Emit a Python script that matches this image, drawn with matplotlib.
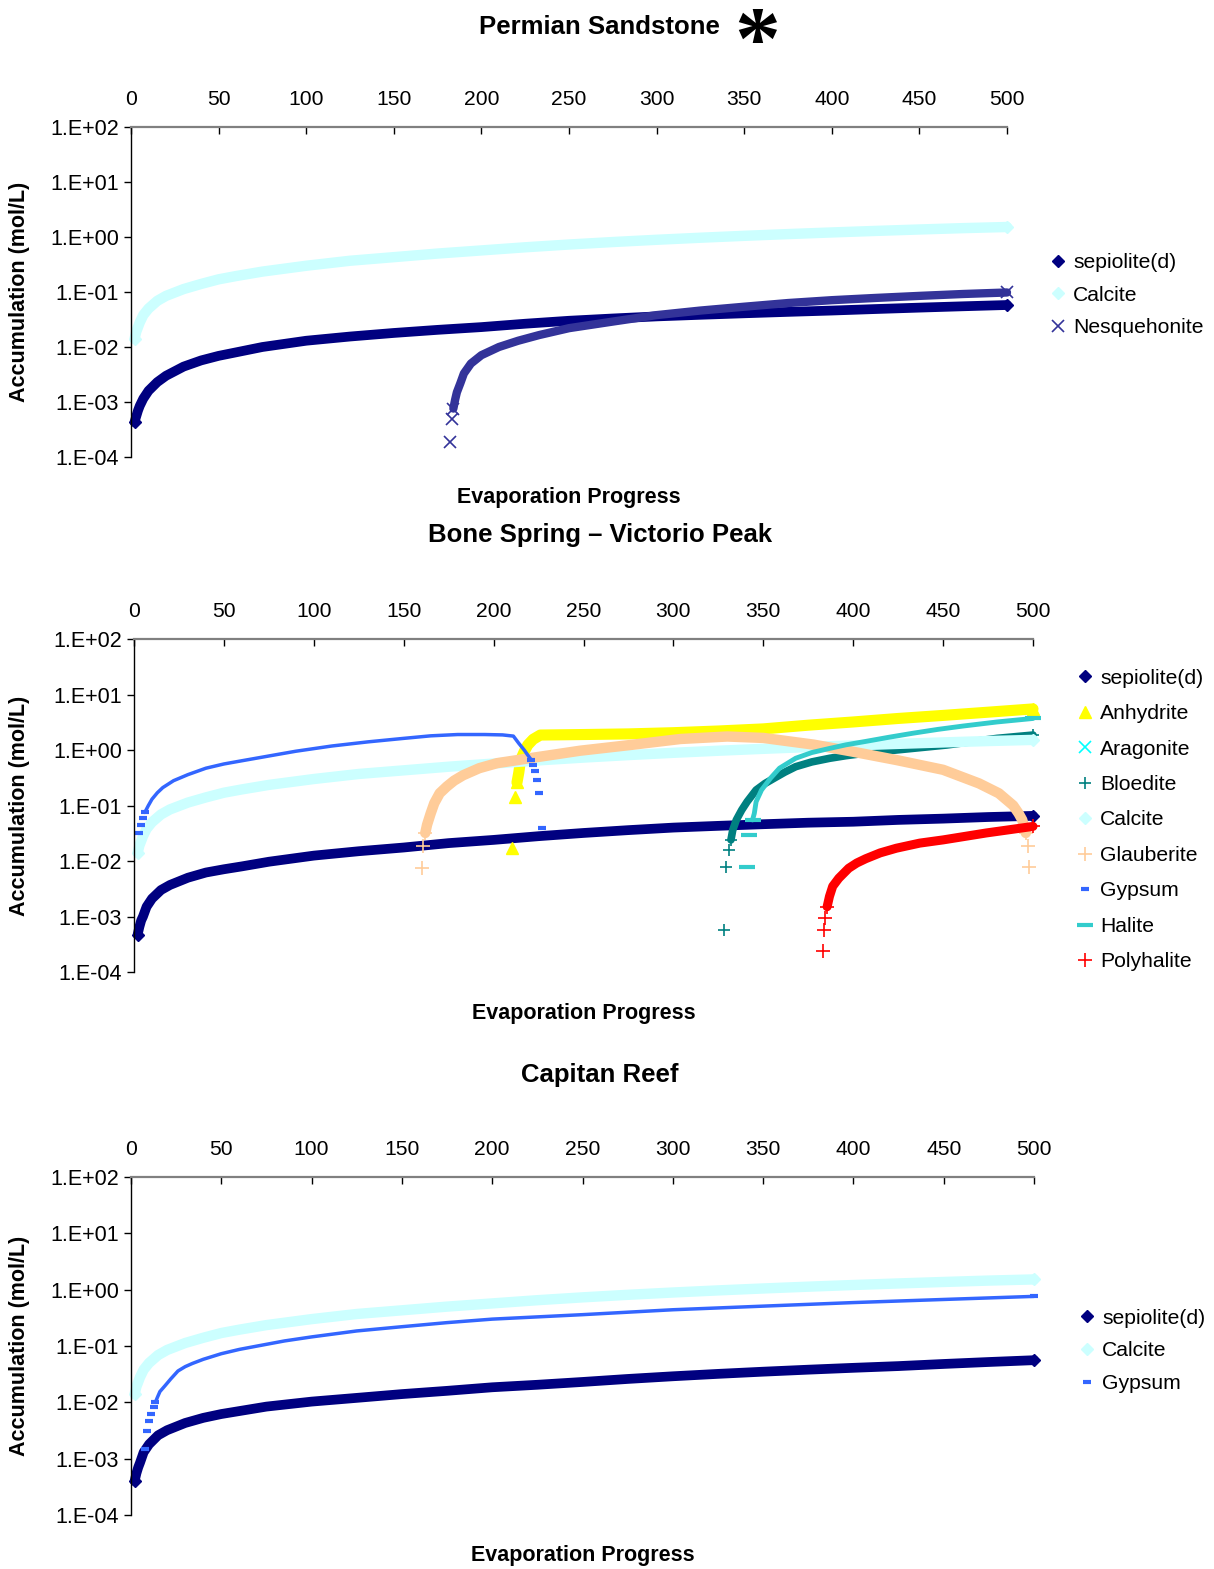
import matplotlib
matplotlib.use("Agg")
import matplotlib.pyplot as plt
from matplotlib.ticker import NullLocator

plt.rcParams['font.family'] = ['Liberation Sans', 'DejaVu Sans']

# ---- data (x = evaporation progress, y = mol/L) ----
x_ticks = [0, 50, 100, 150, 200, 250, 300, 350, 400, 450, 500]
y_ticks = [1e-4, 1e-3, 1e-2, 1e-1, 1e0, 1e1, 1e2]
y_tick_labels = ['1.E-04', '1.E-03', '1.E-02', '1.E-01', '1.E+00', '1.E+01', '1.E+02']

titles = ['Permian Sandstone', 'Bone Spring \u2013 Victorio Peak', 'Capitan Reef']

# sepiolite / calcite sample positions (same in every panel)
base_x = [2, 3, 4, 5, 7, 10, 15, 20, 30, 40, 50, 60, 75, 100, 125, 150, 175, 200,
          225, 250, 275, 300, 325, 350, 375, 400, 425, 450, 475, 500]
sep1_y = [4.3e-4, 5.5e-4, 7.0e-4, 8.5e-4, 1.15e-3, 1.6e-3, 2.3e-3, 3.0e-3, 4.4e-3,
          5.7e-3, 6.9e-3, 8.0e-3, 1.0e-2, 1.3e-2, 1.55e-2, 1.8e-2, 2.05e-2, 2.3e-2,
          2.65e-2, 3.0e-2, 3.3e-2, 3.6e-2, 3.85e-2, 4.1e-2, 4.35e-2, 4.6e-2, 4.9e-2,
          5.2e-2, 5.5e-2, 5.8e-2]
sep2_y = [4.7e-4, 6.5e-4, 8.5e-4, 1.0e-3, 1.5e-3, 2.1e-3, 3.0e-3, 3.7e-3, 5.0e-3,
          6.2e-3, 7.1e-3, 8.0e-3, 9.7e-3, 1.25e-2, 1.5e-2, 1.75e-2, 2.1e-2, 2.4e-2,
          2.8e-2, 3.2e-2, 3.6e-2, 4.0e-2, 4.3e-2, 4.6e-2, 4.9e-2, 5.1e-2, 5.5e-2,
          5.8e-2, 6.2e-2, 6.5e-2]
sep3_y = [4.0e-4, 5.5e-4, 7.0e-4, 8.5e-4, 1.3e-3, 1.8e-3, 2.6e-3, 3.2e-3, 4.3e-3,
          5.3e-3, 6.2e-3, 7.0e-3, 8.4e-3, 1.03e-2, 1.2e-2, 1.4e-2, 1.6e-2, 1.85e-2,
          2.05e-2, 2.3e-2, 2.6e-2, 2.9e-2, 3.2e-2, 3.5e-2, 3.8e-2, 4.1e-2, 4.4e-2,
          4.8e-2, 5.2e-2, 5.6e-2]
cal_y = [1.4e-2, 1.9e-2, 2.3e-2, 2.8e-2, 3.8e-2, 5.0e-2, 6.9e-2, 8.5e-2, 0.113,
         0.14, 0.17, 0.195, 0.235, 0.30, 0.37, 0.43, 0.50, 0.57, 0.65, 0.73, 0.81,
         0.89, 0.97, 1.05, 1.13, 1.21, 1.29, 1.37, 1.45, 1.52]

# Permian Sandstone
nesq_x = [182, 183, 184, 185, 186, 188, 190, 194, 200, 210, 221, 233, 250, 275,
          300, 325, 350, 375, 400, 425, 450, 475, 500]
nesq_y = [1.9e-4, 4.9e-4, 7.6e-4, 1.1e-3, 1.5e-3, 2.2e-3, 3.3e-3, 5.0e-3, 7.1e-3,
          1.0e-2, 1.3e-2, 1.65e-2, 2.2e-2, 2.9e-2, 3.8e-2, 4.6e-2, 5.4e-2, 6.3e-2,
          7.1e-2, 7.8e-2, 8.5e-2, 9.2e-2, 9.8e-2]

# Bone Spring - Victorio Peak
anh_x = [210, 212, 213, 214, 215, 217, 219, 222, 226, 250, 275, 300, 325, 350,
         375, 400, 425, 450, 475, 500]
anh_y = [0.017, 0.144, 0.26, 0.39, 0.66, 0.93, 1.23, 1.56, 1.86, 1.9, 1.95, 2.05,
         2.2, 2.4, 2.8, 3.2, 3.7, 4.2, 4.8, 5.5]
arag_x = []
arag_y = []
bld_x = [328, 329.5, 331, 332, 333, 335, 338, 341, 346, 351, 356, 362, 368, 377,
         387, 396, 406, 424, 452, 480, 500]
bld_y = [5.7e-4, 7.9e-3, 0.016, 0.024, 0.036, 0.055, 0.083, 0.117, 0.19, 0.25,
         0.31, 0.40, 0.50, 0.61, 0.71, 0.79, 0.87, 1.0, 1.23, 1.62, 1.86]
glb_x = [160, 161, 162, 163, 165, 167, 170, 174, 178, 183, 192, 202, 220, 248, 276,
         304, 330, 350, 378, 400, 424, 450, 470, 481, 489, 492, 494, 496, 497, 498]
glb_y = [7.5e-3, 0.019, 0.032, 0.045, 0.072, 0.11, 0.166, 0.22, 0.28, 0.35, 0.47,
         0.58, 0.71, 0.97, 1.23, 1.58, 1.75, 1.65, 1.25, 0.93, 0.66, 0.44, 0.25,
         0.166, 0.10, 0.072, 0.055, 0.032, 0.019, 7.7e-3]
gyp2_x = [3, 4, 5, 6, 8, 10, 13, 16, 22, 30, 40, 50, 60, 75, 90, 110, 130, 150,
          165, 180, 195, 205, 211, 214, 217, 219, 221, 222, 223, 224, 225, 227]
gyp2_y = [0.032, 0.045, 0.06, 0.075, 0.10, 0.13, 0.17, 0.21, 0.28, 0.36, 0.47,
          0.56, 0.64, 0.78, 0.95, 1.18, 1.4, 1.62, 1.8, 1.9, 1.9, 1.87, 1.78,
          1.32, 1.0, 0.81, 0.66, 0.54, 0.41, 0.29, 0.166, 0.04]
hal_x = [341, 342, 344, 345, 346, 349, 354, 359, 368, 377, 387, 396, 406, 420,
         433, 447, 461, 480, 500]
hal_y = [7.7e-3, 0.029, 0.055, 0.072, 0.117, 0.19, 0.31, 0.47, 0.71, 0.9, 1.07,
         1.24, 1.41, 1.7, 2.0, 2.35, 2.7, 3.2, 3.7]
ply_x = [383, 383.5, 384.3, 385.5, 386.8, 388.6, 392, 397.5, 402, 407, 415, 424,
         437, 450, 474, 500]
ply_y = [2.4e-4, 5.7e-4, 9.3e-4, 1.5e-3, 2.3e-3, 3.5e-3, 4.9e-3, 7.4e-3, 9.2e-3,
         0.011, 0.014, 0.017, 0.021, 0.024, 0.032, 0.042]

# Capitan Reef
gyp3_x = [8, 9, 10, 11, 12.5, 13.5, 14.5, 16, 19, 22, 26, 30, 34, 40, 50, 60, 70,
          85, 100, 125, 150, 175, 200, 250, 300, 350, 400, 450, 500]
gyp3_y = [1.5e-3, 3.1e-3, 4.7e-3, 6.2e-3, 8.1e-3, 0.010, 0.012, 0.0155, 0.020,
          0.026, 0.036, 0.043, 0.049, 0.058, 0.073, 0.087, 0.10, 0.123, 0.145,
          0.185, 0.22, 0.26, 0.30, 0.36, 0.44, 0.51, 0.59, 0.67, 0.76]

# ---- styles ----
STY = {
    'sepiolite(d)': dict(marker='D', color='#000080', ms=6.5, mew=1, lw=7),
    'Calcite': dict(marker='D', color='#CCFFFF', ms=6.5, mew=1, lw=7.5),
    'Nesquehonite': dict(marker='x', color='#333399', ms=8, mew=1.2, lw=6),
    'Anhydrite': dict(marker='^', color='#FFFF00', ms=8, mew=1, lw=8),
    'Aragonite': dict(marker='x', color='#00FFFF', ms=8, mew=1.2, lw=5),
    'Bloedite': dict(marker='+', color='#008080', ms=9, mew=1.2, lw=5.5),
    'Glauberite': dict(marker='+', color='#FFCC99', ms=10, mew=1.2, lw=7.5),
    'Gypsum': dict(marker='_', color='#3366FF', ms=6, mew=3, lw=2.5),
    'Halite': dict(marker='_', color='#33CCCC', ms=11, mew=3, lw=3.5),
    'Polyhalite': dict(marker='+', color='#FF0000', ms=10, mew=1.2, lw=6.5),
}

W, H = 1214, 1569
fig = plt.figure(figsize=(W / 100, H / 100), dpi=100)


def draw(ax, name, x, y, band=(0, None)):
    s = STY[name]
    mk = dict(ls='none', marker=s['marker'], ms=s['ms'], mew=s['mew'],
              color=s['color'], mec=s['color'], clip_on=False)
    if len(x):
        a, b = band
        b = len(x) if b is None else b % len(x)
        # dense run of markers -> solid band
        ax.plot(x[a:b], y[a:b], color=s['color'], lw=s['lw'],
                solid_capstyle='round', solid_joinstyle='round', clip_on=False)
        # isolated markers outside the band, plus the two ends
        idx = [i for i in range(len(x)) if i < a or i >= b]
        idx += [a, b - 1]
        ax.plot([x[i] for i in idx], [y[i] for i in idx], **mk)
    ax.plot([], [], label=name, **mk)


def setup(ax):
    ax.set_yscale('log')
    ax.set_ylim(1e-4, 1e2)
    ax.set_xlim(0, 500)
    ax.yaxis.set_minor_locator(NullLocator())
    ax.set_yticks(y_ticks)
    ax.set_yticklabels(y_tick_labels)
    ax.set_xticks(x_ticks)
    ax.xaxis.tick_top()
    ax.tick_params(axis='x', direction='in', length=5, width=1, pad=13,
                   labelsize=15.2, top=True, bottom=False, labeltop=True,
                   labelbottom=False)
    ax.tick_params(axis='y', direction='out', length=5, width=1, pad=3.5,
                   labelsize=15.5)
    for sp in ['right', 'bottom']:
        ax.spines[sp].set_visible(False)
    ax.spines['top'].set_color('#808080')
    ax.spines['top'].set_linewidth(1.6)
    ax.spines['left'].set_color('#000000')
    ax.spines['left'].set_linewidth(1.0)


def labels(box, xlabel_y):
    l, t, r, b = box
    fig.text(20 / W, 1 - (t + b) / 2 / H, 'Accumulation (mol/L)', rotation=90,
             ha='center', va='center', fontsize=15.5, fontweight='bold')
    fig.text((l + r) / 2 / W, 1 - xlabel_y / H, 'Evaporation Progress',
             ha='center', va='center', fontsize=15.5, fontweight='bold')


def add_axes(box):
    l, t, r, b = box
    return fig.add_axes([l / W, 1 - b / H, (r - l) / W, (b - t) / H])


def legend(ax, left, center_y, spacing):
    ax.legend(loc='center left', bbox_to_anchor=(left / W, 1 - center_y / H),
              bbox_transform=fig.transFigure, frameon=False, fontsize=15.2,
              handlelength=0.8, handletextpad=0.3, borderpad=0,
              borderaxespad=0, labelspacing=spacing)


boxes = [(131, 127, 1007, 457), (134, 639, 1033, 972), (131, 1177, 1034, 1515)]

# ---- panel 1 ----
ax1 = add_axes(boxes[0])
setup(ax1)
draw(ax1, 'sepiolite(d)', base_x, sep1_y)
draw(ax1, 'Calcite', base_x, cal_y)
draw(ax1, 'Nesquehonite', nesq_x, nesq_y, (2, None))
legend(ax1, 1050, 295, 0.64)
labels(boxes[0], 497)
fig.text(599 / W, 1 - 27 / H, titles[0], ha='center', va='center',
         fontsize=18.5, fontweight='bold')
fig.text(757 / W, 1 - 69 / H, '*', ha='center', va='baseline', fontsize=66,
         fontweight='bold', family='Liberation Serif')

# ---- panel 2 ----
ax2 = add_axes(boxes[1])
setup(ax2)
draw(ax2, 'sepiolite(d)', base_x, sep2_y)
draw(ax2, 'Anhydrite', anh_x, anh_y, (2, None))
draw(ax2, 'Aragonite', arag_x, arag_y)
draw(ax2, 'Bloedite', bld_x, bld_y, (3, None))
draw(ax2, 'Calcite', base_x, cal_y)
draw(ax2, 'Glauberite', glb_x, glb_y, (2, -2))
draw(ax2, 'Gypsum', gyp2_x, gyp2_y, (3, 27))
draw(ax2, 'Halite', hal_x, hal_y, (2, None))
draw(ax2, 'Polyhalite', ply_x, ply_y, (3, None))
legend(ax2, 1077, 820, 0.78)
labels(boxes[1], 1013)
fig.text(600 / W, 1 - 535 / H, titles[1], ha='center', va='center',
         fontsize=18.5, fontweight='bold')

# ---- panel 3 ----
ax3 = add_axes(boxes[2])
setup(ax3)
draw(ax3, 'sepiolite(d)', base_x, sep3_y)
draw(ax3, 'Calcite', base_x, cal_y)
draw(ax3, 'Gypsum', gyp3_x, gyp3_y, (5, None))
legend(ax3, 1079, 1351, 0.66)
labels(boxes[2], 1555)
fig.text(600 / W, 1 - 1075 / H, titles[2], ha='center', va='center',
         fontsize=18.5, fontweight='bold')

fig.savefig('out.png', dpi=100)
